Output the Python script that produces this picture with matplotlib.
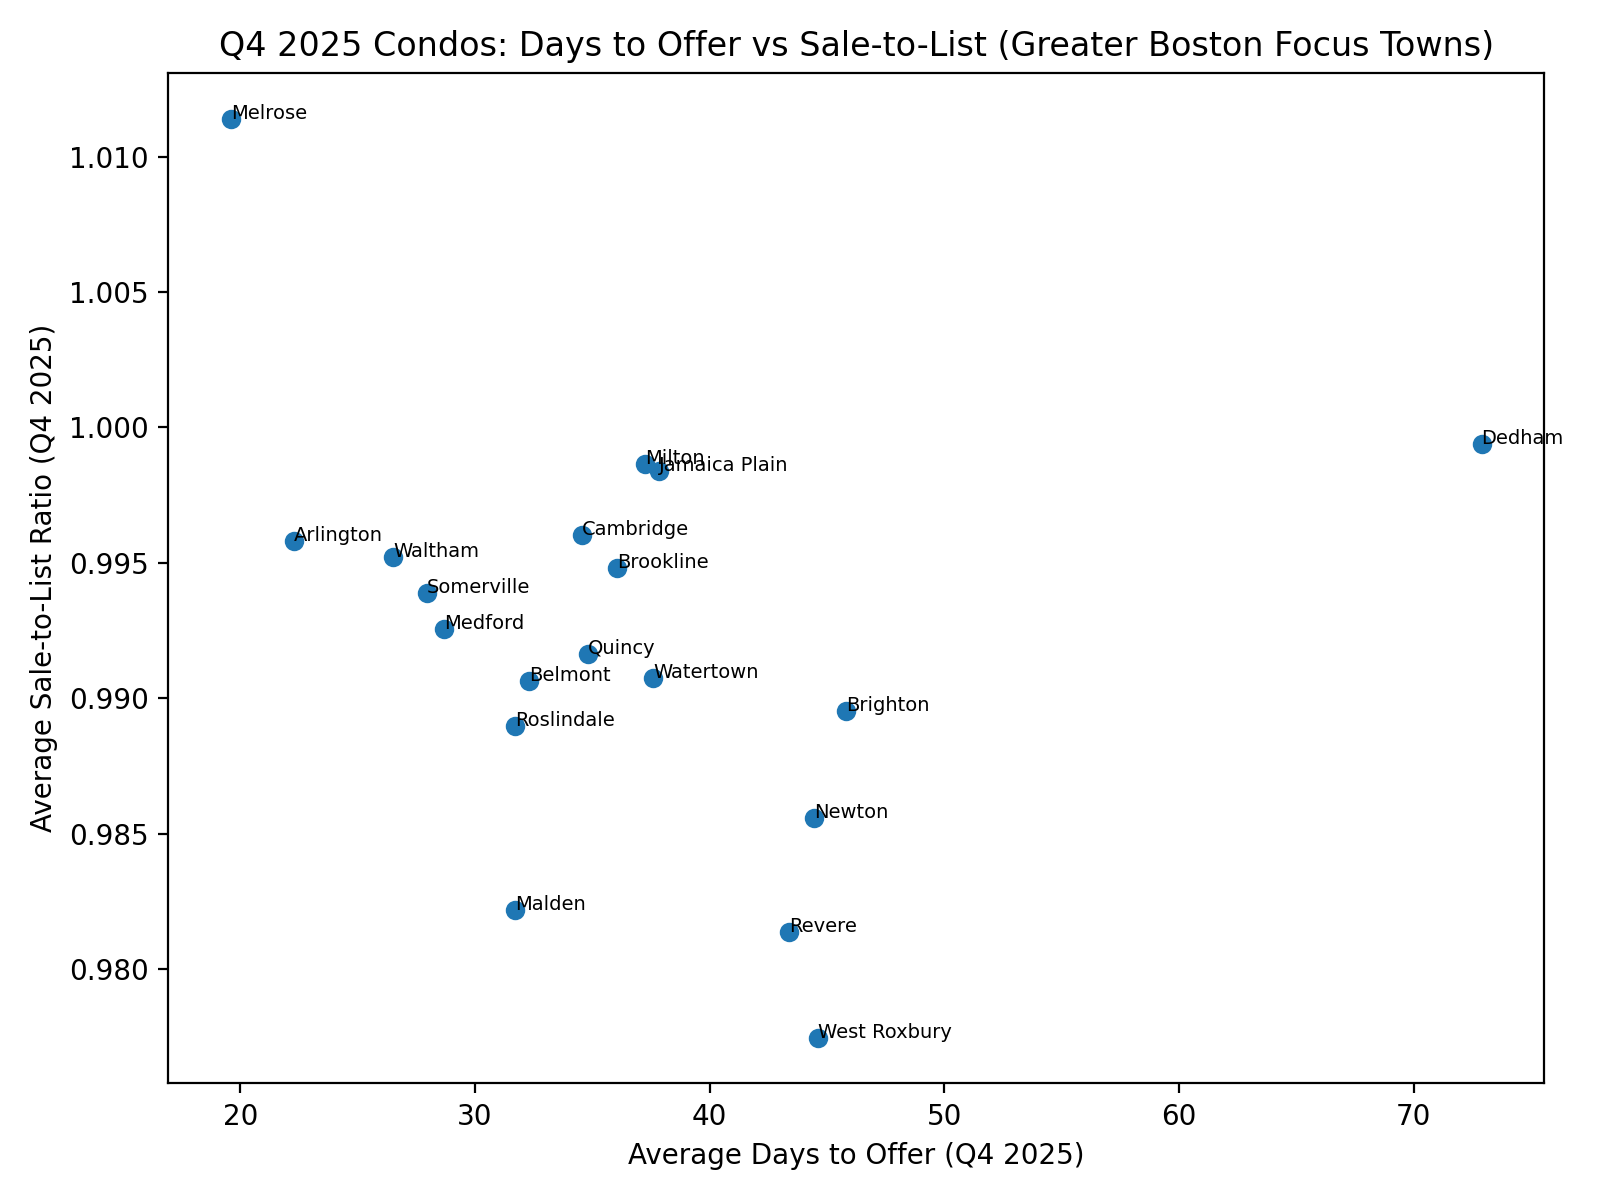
import matplotlib
matplotlib.use("Agg")
import matplotlib.pyplot as plt

towns = ["Melrose", "Arlington", "Waltham", "Somerville", "Medford", "Belmont",
         "Roslindale", "Malden", "Cambridge", "Quincy", "Brookline", "Milton",
         "Jamaica Plain", "Watertown", "Brighton", "Newton", "Revere",
         "West Roxbury", "Dedham"]
days_to_offer = [19.6, 22.3, 26.5, 27.95, 28.7, 32.3,
                 31.7, 31.7, 34.55, 34.8, 36.05, 37.25,
                 37.85, 37.6, 45.8, 44.45, 43.4,
                 44.6, 72.9]
sale_to_list = [1.0114, 0.99580, 0.99523, 0.99387, 0.99254, 0.99062,
                0.98899, 0.98219, 0.99602, 0.99164, 0.99481, 0.99865,
                0.99840, 0.99073, 0.98952, 0.98559, 0.98136,
                0.97747, 0.99938]

fig, ax = plt.subplots(figsize=(8, 6), dpi=200)
ax.scatter(days_to_offer, sale_to_list)
for name, x, y in zip(towns, days_to_offer, sale_to_list):
    ax.annotate(name, (x, y), fontsize=7)
ax.set_title("Q4 2025 Condos: Days to Offer vs Sale-to-List (Greater Boston Focus Towns)")
ax.set_xlabel("Average Days to Offer (Q4 2025)")
ax.set_ylabel("Average Sale-to-List Ratio (Q4 2025)")
fig.tight_layout()
fig.savefig("out.png")
